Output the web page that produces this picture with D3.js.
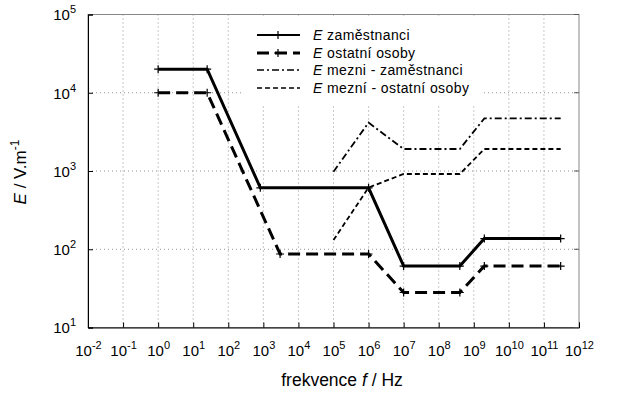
<!DOCTYPE html>
<html>
<head>
<meta charset="utf-8">
<script src="https://cdn.jsdelivr.net/npm/d3@7"></script>
<style>
  body { margin: 0; background: #fff; }
  svg { font-family: "Liberation Sans", Arial, sans-serif; }
</style>
</head>
<body>
<div id="chart"></div>
<script>
// data
const freqZam = [1, 25, 820, 1e6, 1e7, 4e8, 2e9, 3e11];
const eZam = [20000, 20000, 610, 610, 61, 61, 137, 137];
const freqOst = [1, 25, 3000, 1e6, 1e7, 4e8, 2e9, 3e11];
const eOst = [10000, 10000, 87, 87, 28, 28, 61, 61];
const freqMez = [1e5, 1e6, 1e7, 4e8, 2e9, 3e11];
const eMezZam = [980, 4150, 1910, 1910, 4710, 4710];
const eMezOst = [131, 615, 916, 916, 1910, 1910];

const xTickExp = d3.range(-2, 13);
const yTickExp = d3.range(1, 6);
const legendLabels = ["zaměstnanci", "ostatní osoby", "mezni - zaměstnanci", "mezní - ostatní osoby"];

const width = 622, height = 395;
const margin = { left: 88, top: 14.5, right: 43, bottom: 67.5 };

const svg = d3.select("#chart").append("svg")
    .attr("width", width)
    .attr("height", height)
    .style("background", "#fff");

const x = d3.scaleLog().domain([1e-2, 1e12]).range([margin.left, width - margin.right]);
const y = d3.scaleLog().domain([10, 1e5]).range([height - margin.bottom, margin.top]);

// grid
const grid = svg.append("g");
grid.selectAll(".gx").data(xTickExp.slice(1, -1)).join("line")
    .attr("x1", d => x(Math.pow(10, d))).attr("x2", d => x(Math.pow(10, d)))
    .attr("y1", y.range()[1]).attr("y2", y.range()[0])
    .attr("stroke", "#777").attr("stroke-width", 0.8).attr("stroke-dasharray", "1,3");
grid.selectAll(".gy").data(yTickExp.slice(1, -1)).join("line")
    .attr("y1", d => y(Math.pow(10, d))).attr("y2", d => y(Math.pow(10, d)))
    .attr("x1", x.range()[0]).attr("x2", x.range()[1])
    .attr("stroke", "#777").attr("stroke-width", 0.8).attr("stroke-dasharray", "1,3");

// box
svg.append("rect")
    .attr("x", x.range()[0]).attr("y", y.range()[1])
    .attr("width", x.range()[1] - x.range()[0])
    .attr("height", y.range()[0] - y.range()[1])
    .attr("fill", "none").attr("stroke", "#888").attr("stroke-width", 1);

// axes
const xAxis = svg.append("g")
    .attr("transform", `translate(0,${y.range()[0]})`)
    .call(d3.axisBottom(x).tickValues(xTickExp.map(e => Math.pow(10, e))).tickSize(-5).tickPadding(14).tickFormat(""));
xAxis.select(".domain").attr("stroke", "#000");
xAxis.selectAll(".tick line").attr("stroke", "#000");
xAxis.selectAll(".tick text").each(function(d, i) {
    const t = d3.select(this).attr("font-size", 15).attr("fill", "#000").attr("y", 28).attr("dy", null);
    t.append("tspan").text("10");
    t.append("tspan").attr("dy", -7).attr("font-size", 11).text(xTickExp[i]);
});

const yAxis = svg.append("g")
    .attr("transform", `translate(${x.range()[0]},0)`)
    .call(d3.axisLeft(y).tickValues(yTickExp.map(e => Math.pow(10, e))).tickSize(-5).tickPadding(12).tickFormat(""));
yAxis.select(".domain").attr("stroke", "#000");
yAxis.selectAll(".tick line").attr("stroke", "#000");
yAxis.selectAll(".tick text").each(function(d, i) {
    const t = d3.select(this).attr("font-size", 15).attr("fill", "#000").attr("dy", "0.35em");
    t.append("tspan").text("10");
    t.append("tspan").attr("dy", -7).attr("font-size", 11).text(yTickExp[i]);
});

// right ticks
svg.append("g").selectAll("line").data(yTickExp).join("line")
    .attr("x1", x.range()[1]).attr("x2", x.range()[1] - 5)
    .attr("y1", d => y(Math.pow(10, d))).attr("y2", d => y(Math.pow(10, d)))
    .attr("stroke", "#555");

// axis titles
const xt = svg.append("text")
    .attr("x", 342).attr("y", 386)
    .attr("text-anchor", "middle").attr("font-size", 17.5);
xt.append("tspan").text("frekvence ");
xt.append("tspan").attr("font-style", "italic").text("f");
xt.append("tspan").text(" / Hz");

const yt = svg.append("text")
    .attr("transform", "translate(26,172) rotate(-90)")
    .attr("text-anchor", "middle").attr("font-size", 17);
yt.append("tspan").attr("font-style", "italic").text("E");
yt.append("tspan").text(" / V.m");
yt.append("tspan").attr("dy", -7).attr("font-size", 12).text("-1");

// series
const line = d3.line().x(d => x(d[0])).y(d => y(d[1]));
const series = [
    { f: freqZam, e: eZam, width: 3, dash: null, marks: true },
    { f: freqOst, e: eOst, width: 3, dash: "12,6", marks: true },
    { f: freqMez, e: eMezZam, width: 1.8, dash: "7,3,2,3", marks: false },
    { f: freqMez, e: eMezOst, width: 1.8, dash: "5,3", marks: false }
];

const plot = svg.append("g");
series.forEach(s => {
    const pts = s.f.map((f, i) => [f, s.e[i]]);
    plot.append("path")
        .attr("d", line(pts))
        .attr("fill", "none")
        .attr("stroke", "#000")
        .attr("stroke-width", s.width)
        .attr("stroke-dasharray", s.dash);
    if (s.marks) {
        plot.selectAll(null).data(pts).join("path")
            .attr("transform", d => `translate(${x(d[0])},${y(d[1])})`)
            .attr("d", "M-4,0H4M0,-4V4")
            .attr("stroke", "#000").attr("stroke-width", 1.2);
    }
});

// legend
const legend = svg.append("g");
legend.append("rect")
    .attr("x", 243).attr("y", 16).attr("width", 240).attr("height", 89)
    .attr("fill", "#fff");
const rows = [36, 54, 71, 89];
series.forEach((s, i) => {
    const ly = rows[i] - 1;
    legend.append("line")
        .attr("x1", 257).attr("x2", 300).attr("y1", ly).attr("y2", ly)
        .attr("stroke", "#000")
        .attr("stroke-width", i === 0 ? 2 : (i === 1 ? 3 : 1.6))
        .attr("stroke-dasharray", s.dash);
    if (s.marks) {
        legend.append("path")
            .attr("transform", `translate(278,${ly})`)
            .attr("d", "M-4,0H4M0,-4V4")
            .attr("stroke", "#000").attr("stroke-width", 1.2);
    }
    const t = legend.append("text")
        .attr("x", 313).attr("y", rows[i] + 4)
        .attr("font-size", 14).attr("letter-spacing", 0.4);
    t.append("tspan").attr("font-style", "italic").text("E");
    t.append("tspan").text(" " + legendLabels[i]);
});
</script>
</body>
</html>
